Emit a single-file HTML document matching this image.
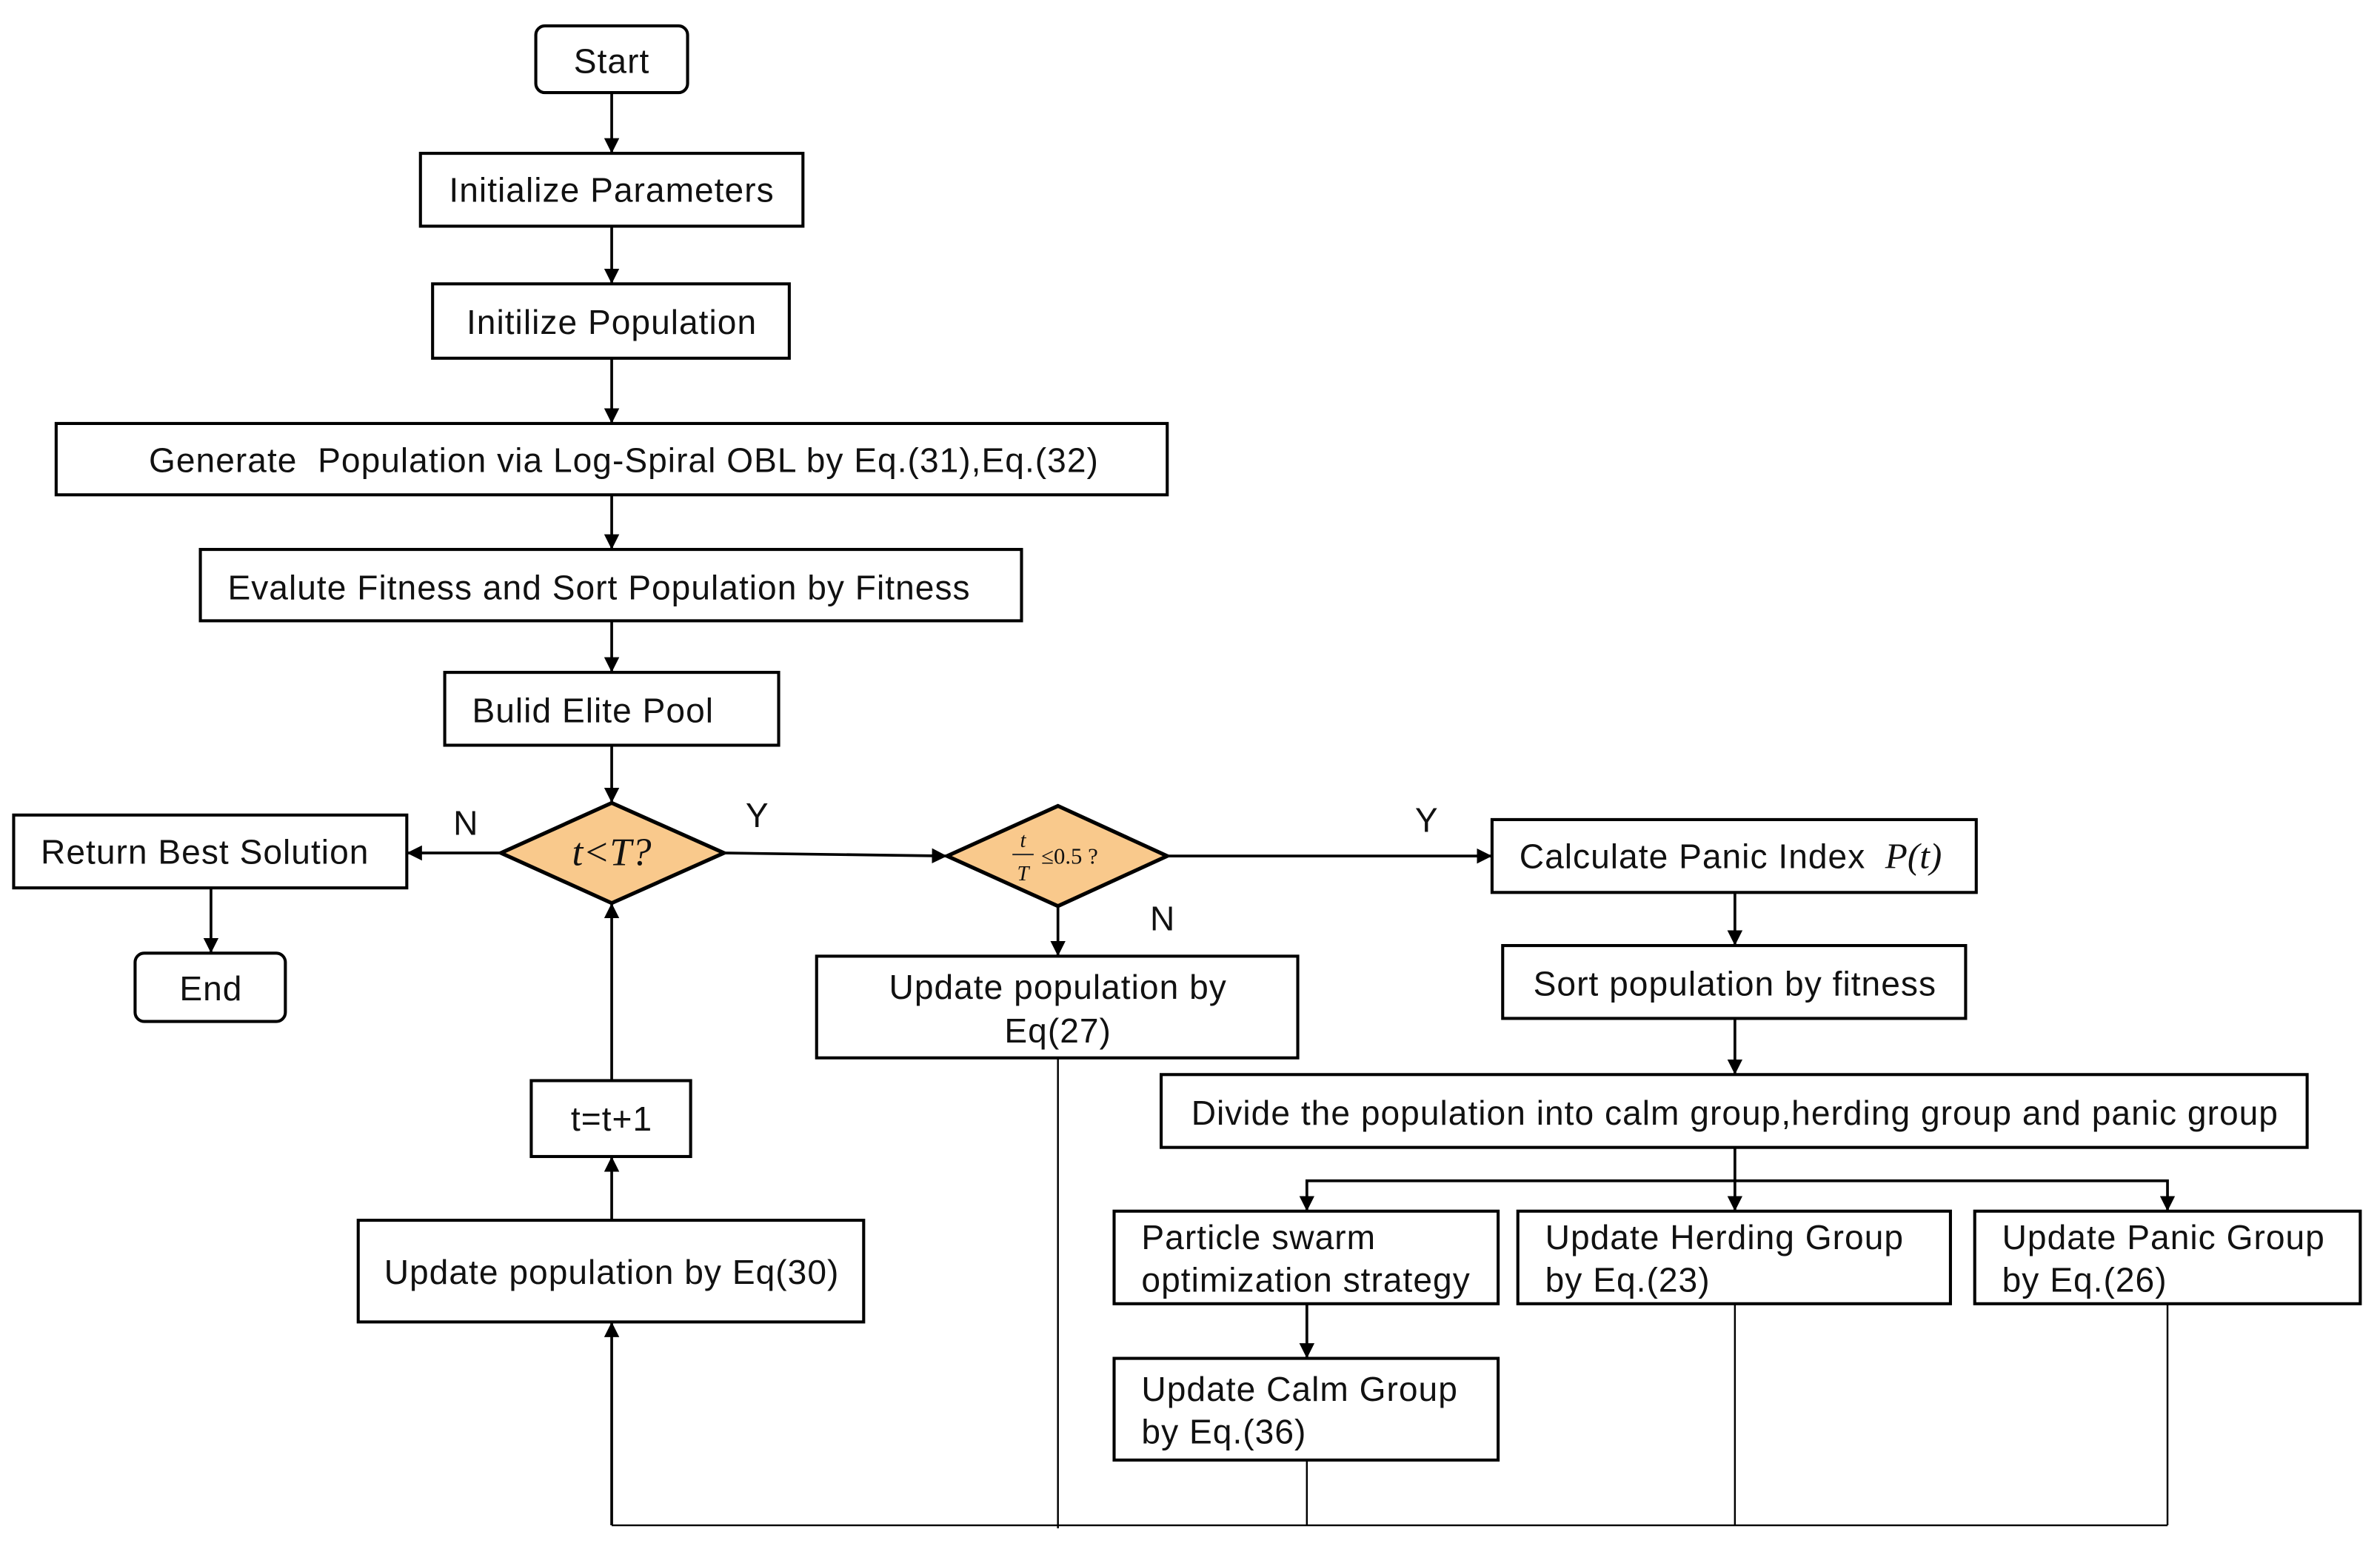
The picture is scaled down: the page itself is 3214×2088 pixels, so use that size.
<!DOCTYPE html>
<html><head><meta charset="utf-8"><style>
html,body{margin:0;padding:0;background:#fff;}
svg{display:block;}
text{font-family:"Liberation Sans",Arial,sans-serif;font-size:22.5px;letter-spacing:0.5px;fill:#111;}
.m{font-family:"Liberation Serif",serif;font-style:italic;letter-spacing:0;}
</style></head><body>
<svg width="3214" height="2088" viewBox="0 0 1568 1018.6" xmlns="http://www.w3.org/2000/svg">
<defs>
<marker id="a" viewBox="0 0 10 10" refX="10" refY="5" markerWidth="10" markerHeight="10" markerUnits="userSpaceOnUse" orient="auto">
<path d="M0,0 L10,5 L0,10 z" fill="#000"/></marker>
</defs>
<g fill="none" stroke="#000" stroke-width="2">
<rect x="353" y="17" width="100" height="44" rx="6"/>
<rect x="277" y="101" width="252" height="48"/>
<rect x="285" y="187" width="235" height="49"/>
<rect x="37" y="279" width="732" height="47"/>
<rect x="132" y="362" width="541" height="47"/>
<rect x="293" y="443" width="220" height="48"/>
<rect x="9" y="537" width="259" height="48"/>
<rect x="89" y="628" width="99" height="45" rx="6"/>
<rect x="538" y="630" width="317" height="67"/>
<rect x="983" y="540" width="319" height="48"/>
<rect x="990" y="623" width="305" height="48"/>
<rect x="765" y="708" width="755" height="48"/>
<rect x="734" y="798" width="253" height="61"/>
<rect x="1000" y="798" width="285" height="61"/>
<rect x="1301" y="798" width="254" height="61"/>
<rect x="734" y="895" width="253" height="67"/>
<rect x="236" y="804" width="333" height="67"/>
<rect x="350" y="712" width="105" height="50"/>
</g>
<g fill="#F9C98C" stroke="#000" stroke-width="2.5">
<polygon points="403,529 477,562 403,595 330,562"/>
<polygon points="697,531 769,564 697,597 624,564"/>
</g>
<g stroke="#000" stroke-width="1.8" fill="none" marker-end="url(#a)">
<line x1="403" y1="61" x2="403" y2="101"/>
<line x1="403" y1="149" x2="403" y2="187"/>
<line x1="403" y1="236" x2="403" y2="279"/>
<line x1="403" y1="326" x2="403" y2="362"/>
<line x1="403" y1="409" x2="403" y2="443"/>
<line x1="403" y1="491" x2="403" y2="529"/>
<line x1="330" y1="562" x2="268" y2="562"/>
<line x1="139" y1="585" x2="139" y2="628"/>
<line x1="477" y1="562" x2="624" y2="564"/>
<line x1="697" y1="597" x2="697" y2="630"/>
<line x1="769" y1="564" x2="983" y2="564"/>
<line x1="1143" y1="588" x2="1143" y2="623"/>
<line x1="1143" y1="671" x2="1143" y2="708"/>
<line x1="1143" y1="756" x2="1143" y2="798"/>
<path d="M1143,778 H861 V798"/>
<path d="M1143,778 H1428 V798"/>
<line x1="861" y1="859" x2="861" y2="895"/>
<line x1="403" y1="1005" x2="403" y2="871"/>
<line x1="403" y1="804" x2="403" y2="762"/>
<line x1="403" y1="712" x2="403" y2="595"/>
</g>
<g stroke="#000" stroke-width="1.2" fill="none">
<line x1="697" y1="697" x2="697" y2="1007"/>
<line x1="861" y1="962" x2="861" y2="1005"/>
<line x1="1143" y1="859" x2="1143" y2="1005"/>
<line x1="1428" y1="859" x2="1428" y2="1005"/>
<line x1="403" y1="1005" x2="1428" y2="1005"/>
</g>
<g text-anchor="middle">
<text x="403" y="48">Start</text>
<text x="403" y="133">Initialize Parameters</text>
<text x="403" y="220">Initilize Population</text>
<text x="411" y="311" xml:space="preserve">Generate  Population via Log-Spiral OBL by Eq.(31),Eq.(32)</text>
<text x="135" y="569">Return Best Solution</text>
<text x="139" y="659">End</text>
<text x="697" y="658">Update population by</text>
<text x="697" y="687">Eq(27)</text>
<text x="403" y="846">Update population by Eq(30)</text>
<text x="403" y="745">t=t+1</text>
<text x="1143" y="656">Sort population by fitness</text>
<text x="1143" y="741">Divide the population into calm group,herding group and panic group</text>
<text x="307" y="550">N</text>
<text x="499" y="545">Y</text>
<text x="940" y="548">Y</text>
<text x="766" y="613">N</text>
</g>
<text x="150" y="395">Evalute Fitness and Sort Population by Fitness</text>
<text x="311" y="476">Bulid Elite Pool</text>
<text x="1001" y="572">Calculate Panic Index</text>
<text x="1242" y="572" class="m" style="font-size:24px">P(t)</text>
<text x="752" y="823">Particle swarm</text>
<text x="752" y="851">optimization strategy</text>
<text x="1018" y="823">Update Herding Group</text>
<text x="1018" y="851">by Eq.(23)</text>
<text x="1319" y="823">Update Panic Group</text>
<text x="1319" y="851">by Eq.(26)</text>
<text x="752" y="923">Update Calm Group</text>
<text x="752" y="951">by Eq.(36)</text>
<text x="403" y="570" text-anchor="middle" class="m" style="font-size:26px">t&lt;T?</text>
<text x="674" y="558" text-anchor="middle" class="m" style="font-size:14px">t</text>
<line x1="667" y1="563" x2="681" y2="563" stroke="#333" stroke-width="1"/>
<text x="674" y="580" text-anchor="middle" class="m" style="font-size:14px">T</text>
<text x="686" y="569" style="font-family:'Liberation Serif',serif;font-size:15px;letter-spacing:0">≤0.5 ?</text>
</svg>
</body></html>
